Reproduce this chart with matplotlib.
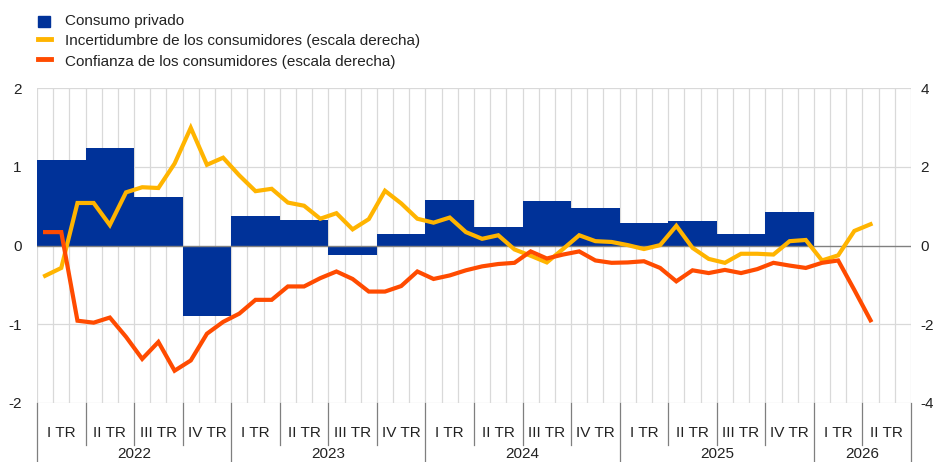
import matplotlib
matplotlib.use("Agg")
import matplotlib.pyplot as plt
import matplotlib.transforms as mtransforms
from matplotlib.patches import Rectangle
from matplotlib.lines import Line2D
import numpy as np

plt.rcParams['font.family'] = ['Liberation Sans', 'DejaVu Sans']

# ---- data ----
quarter_labels = ["I TR", "II TR", "III TR", "IV TR"] * 4 + ["I TR", "II TR"]
years = ["2022", "2023", "2024", "2025", "2026"]
year_quarters = [4, 4, 4, 4, 2]

consumo = [1.08, 1.24, 0.61, -0.89,
           0.38, 0.32, -0.12, 0.15,
           0.58, 0.23, 0.56, 0.48,
           0.29, 0.31, 0.15, 0.43]

incertidumbre = [-0.77, -0.57, 1.08, 1.08, 0.52, 1.35, 1.48, 1.46, 2.08, 2.99, 2.05, 2.23,
                 1.78, 1.38, 1.44, 1.09, 1.01, 0.68, 0.82, 0.41, 0.67, 1.39, 1.07, 0.68,
                 0.58, 0.71, 0.34, 0.17, 0.26, -0.10, -0.26, -0.43, -0.09, 0.26, 0.11, 0.09,
                 0.01, -0.09, 0.01, 0.50, -0.06, -0.34, -0.44, -0.21, -0.21, -0.23, 0.11, 0.14,
                 -0.38, -0.25, 0.37, 0.54]

confianza = [0.34, 0.34, -1.91, -1.96, -1.83, -2.32, -2.88, -2.45, -3.18, -2.92, -2.24, -1.94,
             -1.73, -1.38, -1.38, -1.04, -1.04, -0.83, -0.66, -0.85, -1.17, -1.17, -1.03, -0.66,
             -0.85, -0.76, -0.63, -0.53, -0.47, -0.44, -0.15, -0.33, -0.23, -0.15, -0.38, -0.44,
             -0.43, -0.40, -0.57, -0.91, -0.63, -0.70, -0.62, -0.70, -0.60, -0.44, -0.51, -0.57,
             -0.44, -0.38, -1.13, -1.90]

legend_labels = ["Consumo privado",
                 "Incertidumbre de los consumidores (escala derecha)",
                 "Confianza de los consumidores (escala derecha)"]

BLUE = "#003299"
YELLOW = "#FFB400"
ORANGE = "#FF4B00"
GRID = "#d9d9d9"
SEP = "#7f7f7f"
TXT = "#222222"
FS = 11

W, H = 935, 462
fig = plt.figure(figsize=(W / 100, H / 100), dpi=100)
L, R, T, B = 37, 911, 88, 403
ax = fig.add_axes([L / W, 1 - B / H, (R - L) / W, (B - T) / H])

n_q = len(quarter_labels)
n_m = n_q * 3
ax.set_xlim(0, n_m)
ax.set_ylim(-2, 2)

# grid
for xm in range(n_m + 1):
    ax.axvline(xm, color=GRID, lw=0.9, zorder=0)
for yv in [-2, -1, 1, 2]:
    ax.axhline(yv, color=GRID, lw=0.9, zorder=0)

# bars
xq = np.arange(len(consumo)) * 3 + 1.5
ax.bar(xq, consumo, width=3, color=BLUE, zorder=2, linewidth=0)
ax.axhline(0, color="#808080", lw=1.0, zorder=3)

for s in ax.spines.values():
    s.set_visible(False)
ax.set_xticks([])
ax.set_yticks([-2, -1, 0, 1, 2])
ax.set_yticklabels(["-2", "-1", "0", "1", "2"])
ax.tick_params(axis='y', length=0, pad=11, labelsize=FS, colors=TXT)

ax2 = ax.twinx()
ax2.set_ylim(-4, 4)
ax2.set_xlim(0, n_m)
xm_pts = np.arange(len(incertidumbre)) + 0.5
ax2.plot(xm_pts, incertidumbre, color=YELLOW, lw=3.0, solid_joinstyle='miter', zorder=4)
ax2.plot(xm_pts, confianza, color=ORANGE, lw=3.0, solid_joinstyle='miter', zorder=5)
for s in ax2.spines.values():
    s.set_visible(False)
ax2.set_yticks([-4, -2, 0, 2, 4])
ax2.set_yticklabels(["-4", "-2", "0", "2", "4"])
ax2.tick_params(axis='y', length=0, pad=7, labelsize=FS, colors=TXT)

# category axis
trans = mtransforms.blended_transform_factory(ax.transData, ax.transAxes)
hq = 42 / (B - T)
hy = 60 / (B - T)
year_bounds = np.cumsum([0] + year_quarters) * 3
for qi in range(n_q + 1):
    xb = qi * 3
    ybot = -hy if xb in year_bounds else -hq
    ax.plot([xb, xb], [0, ybot], transform=trans, color=SEP, lw=0.9, clip_on=False)
for qi, lab in enumerate(quarter_labels):
    ax.text(qi * 3 + 1.5, -30 / (B - T), lab, transform=trans, ha='center', va='center',
            fontsize=FS, color=TXT)
for yi, yr in enumerate(years):
    xc = (year_bounds[yi] + year_bounds[yi + 1]) / 2
    ax.text(xc, -51 / (B - T), yr, transform=trans, ha='center', va='center',
            fontsize=FS, color=TXT)

# legend (manual)
def fx(px):
    return px / W

def fy(py):
    return 1 - py / H

fig.patches.append(Rectangle((fx(38), fy(27)), 12 / W, 11 / H, transform=fig.transFigure,
                             color=BLUE, figure=fig))
fig.lines.append(Line2D([fx(38), fx(51)], [fy(38.5), fy(38.5)], transform=fig.transFigure,
                        color=YELLOW, lw=3.5, figure=fig))
fig.lines.append(Line2D([fx(38), fx(51)], [fy(58.5), fy(58.5)], transform=fig.transFigure,
                        color=ORANGE, lw=3.5, figure=fig))
for i, lab in enumerate(legend_labels):
    fig.text(fx(65), fy(21 + i * 20.5), lab, ha='left', va='center', fontsize=FS,
             color=TXT)

fig.savefig("out.png", dpi=100)
